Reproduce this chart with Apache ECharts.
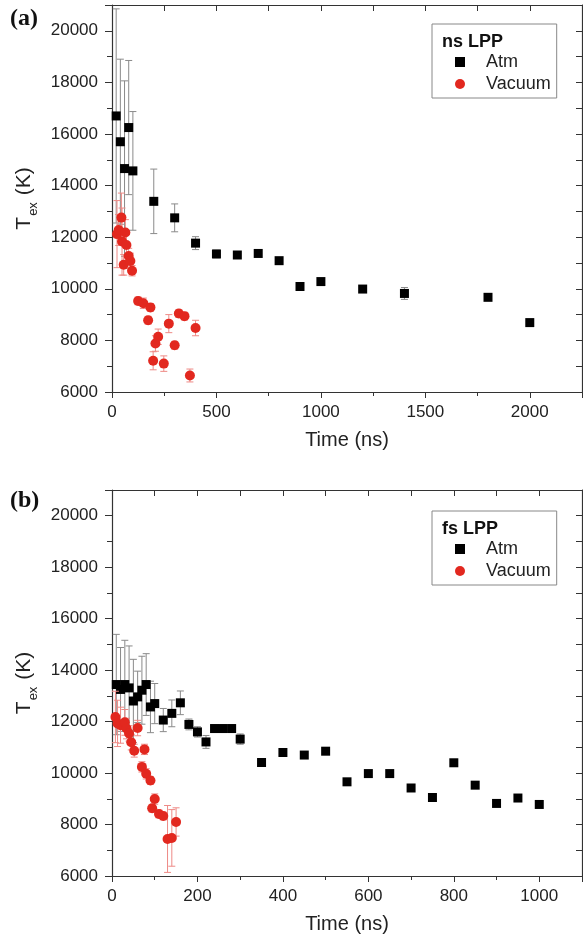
<!DOCTYPE html>
<html>
<head>
<meta charset="utf-8">
<script src="https://cdn.jsdelivr.net/npm/echarts@6/dist/echarts.min.js"></script>
<style>
html,body{margin:0;padding:0;background:#fff;}
#c{width:583px;height:943px;}
</style>
</head>
<body>
<div id="c"></div>
<script>
// ---- Panel (a): ns LPP ----
const atmA_t   = [20, 40, 60, 80, 100, 200, 300, 400, 500, 600, 700, 800, 900, 1000, 1200, 1400, 1800, 2000];
const atmA_T   = [16700, 15700, 14660, 16250, 14570, 13390, 12750, 11770, 11350, 11310, 11370, 11090, 10090, 10280, 9990, 9820, 9670, 8690];
const atmA_err = [4150, 3200, 3400, 2600, 2300, 1250, 540, 250, 150, 100, 80, 80, 60, 60, 60, 230, 60, 60];

const vacA_t   = [24, 32, 45, 48, 56, 64, 69, 80, 88, 96, 125, 150, 173, 184, 197, 208, 221, 248, 272, 300, 320, 347, 373, 400];
const vacA_T   = [12120, 12280, 12760, 11830, 10930, 12180, 11700, 11270, 11080, 10700, 9530, 9440, 8780, 9280, 7210, 7880, 8140, 7100, 8650, 7810, 9040, 8940, 6640, 8480];
const vacA_err = [1300, 600, 950, 1300, 400, 500, 400, 300, 300, 200, 150, 200, 150, 150, 350, 300, 300, 300, 350, 150, 150, 150, 250, 300];

// ---- Panel (b): fs LPP ----
const atmB_t   = [10, 20, 30, 40, 50, 60, 70, 80, 90, 100, 120, 140, 160, 180, 200, 220, 240, 260, 280, 300, 350, 400, 450, 500, 550, 600, 650, 700, 750, 800, 850, 900, 950, 1000];
const atmB_T   = [13440, 13250, 13440, 13310, 12800, 12960, 13220, 13440, 12570, 12700, 12060, 12320, 12730, 11890, 11600, 11210, 11730, 11730, 11730, 11320, 10410, 10800, 10700, 10850, 9660, 9980, 9980, 9420, 9050, 10400, 9530, 8820, 9030, 8780];
const atmB_err = [1950, 1630, 1720, 1630, 1620, 1000, 1320, 1200, 1000, 780, 450, 520, 460, 210, 200, 250, 150, 150, 150, 200, 60, 60, 60, 60, 60, 60, 60, 60, 60, 60, 60, 60, 60, 60];

const vacB_t   = [8, 13, 20, 30, 34, 40, 45, 52, 60, 70, 76, 80, 90, 94, 100, 110, 120, 130, 140, 150];
const vacB_T   = [12180, 11930, 11860, 11970, 11730, 11540, 11200, 10870, 11750, 10240, 10920, 9970, 9710, 8630, 8990, 8410, 8330, 7440, 7480, 8100];
const vacB_err = [1000, 900, 700, 500, 400, 300, 300, 250, 300, 200, 200, 200, 150, 150, 200, 150, 150, 1300, 1100, 550];

// axis settings
const yMin = 6000, yMax = 21000, yStep = 2000;
const xMaxA = 2250, xStepA = 500;
const xMaxB = 1100, xStepB = 200;

const zip = (a, b, c) => a.map((v, i) => c ? [v, b[i], c[i]] : [v, b[i]]);

const AX = '#333';
const FONT = 'Liberation Sans, Arial, sans-serif';

function errRender(color) {
  return function (params, api) {
    const x = api.value(0), y = api.value(1), e = api.value(2);
    const top = api.coord([x, y + e]);
    const bot = api.coord([x, y - e]);
    const hw = 3.5;
    const st = { stroke: color, lineWidth: 1 };
    return {
      type: 'group',
      children: [
        { type: 'line', shape: { x1: top[0], y1: top[1], x2: bot[0], y2: bot[1] }, style: st },
        { type: 'line', shape: { x1: top[0] - hw, y1: top[1], x2: top[0] + hw, y2: top[1] }, style: st },
        { type: 'line', shape: { x1: bot[0] - hw, y1: bot[1], x2: bot[0] + hw, y2: bot[1] }, style: st }
      ]
    };
  };
}

function xAxes(gi, max, step) {
  return [
    {
      type: 'value', gridIndex: gi, position: 'bottom', min: 0, max: max, interval: step,
      name: 'Time (ns)', nameLocation: 'middle', nameGap: 38,
      nameTextStyle: { fontSize: 20, color: '#222', fontFamily: FONT },
      axisLine: { show: true, onZero: false, lineStyle: { color: AX, width: 1.2 } },
      axisTick: { show: true, inside: false, length: 6, lineStyle: { color: AX } },
      minorTick: { show: true, splitNumber: 2, length: 4, lineStyle: { color: AX } },
      axisLabel: { fontSize: 17, color: '#222', fontFamily: FONT, margin: 12, showMaxLabel: false, formatter: v => String(v) },
      splitLine: { show: false }
    },
    {
      type: 'value', gridIndex: gi, position: 'top', min: 0, max: max, interval: step,
      axisLine: { show: true, onZero: false, lineStyle: { color: AX, width: 1.2 } },
      axisTick: { show: true, inside: true, length: 6, lineStyle: { color: AX } },
      minorTick: { show: true, splitNumber: 2, length: 6, lineStyle: { color: AX } },
      axisLabel: { show: false },
      splitLine: { show: false }
    }
  ];
}

function yAxes(gi) {
  return [
    {
      type: 'value', gridIndex: gi, position: 'left', min: yMin, max: yMax, interval: yStep,
      name: '{a|T}{b|ex}{a| (K)}', nameLocation: 'middle', nameGap: 60, nameRotate: 90,
      nameTextStyle: {
        color: '#222', fontFamily: FONT,
        rich: {
          a: { fontSize: 21, fontFamily: FONT, color: '#222', lineHeight: 26, verticalAlign: 'middle' },
          b: { fontSize: 13, fontFamily: FONT, color: '#222', lineHeight: 26, verticalAlign: 'bottom', padding: [0, 1, -3, 1] }
        }
      },
      axisLine: { show: true, onZero: false, lineStyle: { color: AX, width: 1.2 } },
      axisTick: { show: true, inside: false, length: 7, lineStyle: { color: AX } },
      minorTick: { show: true, splitNumber: 2, length: 5, lineStyle: { color: AX } },
      axisLabel: { fontSize: 17, color: '#222', fontFamily: FONT, margin: 14, showMaxLabel: false, formatter: v => String(v) },
      splitLine: { show: false }
    },
    {
      type: 'value', gridIndex: gi, position: 'right', min: yMin, max: yMax, interval: yStep,
      axisLine: { show: true, onZero: false, lineStyle: { color: AX, width: 1.2 } },
      axisTick: { show: true, inside: true, length: 6, lineStyle: { color: AX } },
      minorTick: { show: true, splitNumber: 2, length: 6, lineStyle: { color: AX } },
      axisLabel: { show: false },
      splitLine: { show: false }
    }
  ];
}

const RED = '#e2281f';
const ERR_GRAY = '#8a8a8a';
const ERR_RED = '#ee8a86';

function panelSeries(ix, iy, at, aT, aE, vt, vT, vE) {
  return [
    { type: 'custom', name: 'AtmErr', xAxisIndex: ix, yAxisIndex: iy, renderItem: errRender(ERR_GRAY),
      encode: { x: 0, y: 1 }, data: zip(at, aT, aE), z: 2, silent: true },
    { type: 'scatter', name: 'Atm', xAxisIndex: ix, yAxisIndex: iy, symbol: 'rect', symbolSize: 9,
      itemStyle: { color: '#000', opacity: 1 }, data: zip(at, aT), z: 3 },
    { type: 'custom', name: 'VacErr', xAxisIndex: ix, yAxisIndex: iy, renderItem: errRender(ERR_RED),
      encode: { x: 0, y: 1 }, data: zip(vt, vT, vE), z: 4, silent: true },
    { type: 'scatter', name: 'Vacuum', xAxisIndex: ix, yAxisIndex: iy, symbol: 'circle', symbolSize: 10,
      itemStyle: { color: RED, opacity: 1 }, data: zip(vt, vT), z: 5 }
  ];
}

function legendAt(top) {
  return {
    left: 432, top: top, orient: 'vertical',
    data: [
      { name: 'Atm', icon: 'rect', itemStyle: { color: '#000', opacity: 1 } },
      { name: 'Vacuum', icon: 'circle', itemStyle: { color: RED, opacity: 1 } }
    ],
    itemWidth: 10, itemHeight: 10, itemGap: 0,
    padding: [27, 6, 3, 23],
    borderColor: '#888', borderWidth: 1, borderRadius: 0,
    textStyle: { fontSize: 18, color: '#222', fontFamily: FONT, lineHeight: 22, padding: [0, 0, 0, 16] },
    selectedMode: false
  };
}

const chart = echarts.init(document.getElementById('c'), null, { renderer: 'canvas' });
chart.setOption({
  backgroundColor: '#fff',
  animation: false,
  title: [
    { text: '(a)', left: 5, top: 2, textStyle: { fontSize: 24, fontWeight: 'bold', fontFamily: 'Liberation Serif, Times New Roman, serif', color: '#111' } },
    { text: '(b)', left: 5, top: 484, textStyle: { fontSize: 24, fontWeight: 'bold', fontFamily: 'Liberation Serif, Times New Roman, serif', color: '#111' } },
    { text: 'ns LPP', left: 437, top: 28, textStyle: { fontSize: 18, fontWeight: 'bold', fontFamily: FONT, color: '#111' } },
    { text: 'fs LPP', left: 437, top: 515, textStyle: { fontSize: 18, fontWeight: 'bold', fontFamily: FONT, color: '#111' } }
  ],
  legend: [legendAt(24), legendAt(511)],
  grid: [
    { left: 112, right: 1, top: 5, bottom: 551 },
    { left: 112, right: 1, top: 490, bottom: 67 }
  ],
  xAxis: [...xAxes(0, xMaxA, xStepA), ...xAxes(1, xMaxB, xStepB)],
  yAxis: [...yAxes(0), ...yAxes(1)],
  series: [
    ...panelSeries(0, 0, atmA_t, atmA_T, atmA_err, vacA_t, vacA_T, vacA_err),
    ...panelSeries(2, 2, atmB_t, atmB_T, atmB_err, vacB_t, vacB_T, vacB_err)
  ]
});
</script>
</body>
</html>
